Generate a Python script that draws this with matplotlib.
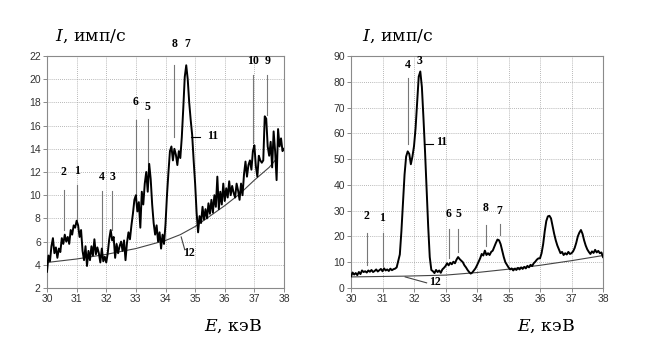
import numpy as np
import matplotlib
matplotlib.use("Agg")
import matplotlib.pyplot as plt

plt.rcParams['mathtext.fontset'] = 'dejavuserif'

# ---------------- data ----------------
E_start, E_step = 30.0, 0.05

left_counts = [
    3.4, 4.8, 4.3, 5.6, 6.3, 5.0, 5.5, 4.6, 5.4, 5.1,
    6.3, 5.8, 6.6, 6.0, 6.4, 5.8, 7.0, 6.6, 7.4, 7.2,
    7.8, 7.4, 6.4, 7.0, 5.2, 4.4, 5.6, 3.9, 5.2, 4.4,
    5.6, 4.8, 6.2, 4.9, 5.5, 5.0, 4.2, 5.4, 4.3, 4.7,
    4.2, 5.0, 6.2, 7.0, 6.1, 6.4, 4.6, 5.8, 5.0, 5.6,
    6.0, 5.2, 6.1, 4.4, 5.9, 6.8, 6.2, 7.4, 8.4, 9.6,
    10.0, 8.6, 9.4, 7.2, 10.3, 9.2, 11.0, 12.0, 10.3, 12.7,
    11.4, 9.2, 7.6, 6.6, 7.4, 6.0, 6.8, 5.4, 6.6, 5.8,
    7.5, 10.0, 12.0, 13.8, 14.2, 13.0, 14.0, 13.5, 12.6, 13.8,
    13.2, 15.0, 17.5, 20.2, 21.2, 20.0, 18.0, 16.5, 15.2, 13.0,
    11.0, 8.5, 6.8, 8.2, 7.6, 9.0, 7.9, 8.8, 8.0, 9.3,
    8.4, 9.6, 8.5, 10.0, 9.0, 11.6, 8.8, 10.3, 9.2, 11.0,
    9.5, 10.6, 9.8, 11.2, 10.0, 10.8, 10.2, 9.8, 11.0, 10.4,
    9.6, 11.0, 10.0, 11.8, 12.9, 11.6, 12.6, 13.0, 12.2, 13.8,
    14.3, 12.5, 11.6, 13.4, 13.0, 12.8, 13.0, 16.8, 16.6, 14.2,
    13.4, 14.6, 12.4, 15.5, 13.8, 11.3, 15.7, 14.2, 14.9, 13.8,
    14.0,
]

right_counts = [
    4.5, 6.0, 5.2, 5.8, 5.0, 6.2, 5.4, 6.8, 6.2, 6.5,
    6.0, 6.8, 6.3, 7.0, 6.2, 6.6, 7.2, 6.4, 6.9, 7.4,
    6.5, 7.6, 6.8, 7.2, 6.6, 7.5, 6.9, 7.3, 7.5, 8.0,
    10.5, 13.0, 22.0, 33.0, 44.0, 51.0, 53.0, 52.0, 48.0, 51.0,
    55.0, 62.0, 72.0, 82.0, 84.0, 78.0, 66.0, 53.0, 38.0, 24.0,
    12.0, 7.0, 6.5, 5.8, 7.0, 6.2, 6.8, 5.9, 7.2, 7.8,
    8.5, 9.6, 8.8, 9.8, 9.2, 10.2, 9.6, 11.0, 12.0, 11.2,
    10.6, 10.0, 8.8, 8.0, 7.0, 6.2, 5.6, 6.0, 6.8, 7.6,
    8.8, 10.2, 11.5, 13.2, 12.6, 14.5, 12.8, 13.5, 12.8, 14.0,
    14.5, 16.0, 17.5, 18.8, 18.5, 17.0, 14.5, 12.0, 10.0, 9.0,
    8.0, 7.2, 7.6, 6.8, 7.5, 7.0, 7.8, 7.2, 8.0, 7.4,
    8.2, 7.6, 8.6, 8.0, 9.0, 8.5, 9.6, 10.2, 11.0, 11.5,
    11.5, 13.5, 17.0, 22.0, 26.0, 27.8, 28.0, 27.0, 24.0, 21.0,
    18.5, 16.5, 15.0, 13.5, 14.0, 12.8, 13.5, 13.0, 14.0, 13.2,
    13.5, 14.2, 15.5, 17.5, 20.0, 21.5, 22.5, 21.0, 18.5, 16.5,
    15.0, 14.0, 13.2, 14.2, 13.6, 14.8, 13.8, 14.4, 13.5, 13.8,
    12.0,
]

# background (curve 12)
left_bg_E = [30.0, 30.5, 31.0, 31.5, 32.0, 32.5, 33.0, 33.5, 34.0, 34.5, 35.0, 35.5, 36.0, 36.5, 37.0, 37.5, 37.7]
left_bg_I = [4.2, 4.35, 4.5, 4.7, 4.9, 5.15, 5.4, 5.75, 6.1, 6.6, 7.3, 8.2, 9.1, 10.1, 11.3, 12.4, 13.0]
right_bg_E = [30.0, 31.7, 33.0, 34.0, 35.0, 36.0, 37.0, 38.0]
right_bg_I = [4.3, 4.6, 5.0, 6.0, 7.3, 8.8, 10.6, 12.6]

# peak markers: label, energy, line bottom, line top, label y
left_marks_lbl = ['2', '1', '4', '3', '6', '5', '8', '7', '10', '9']
left_marks_E   = [30.57, 31.0, 31.86, 32.2, 33.0, 33.4, 34.3, 34.73, 36.95, 37.43]
left_marks_lo  = [7.0, 7.9, 5.1, 7.0, 9.8, 12.5, 15.0, None, 14.5, 16.9]
left_marks_hi  = [10.45, 10.9, 10.4, 10.4, 16.5, 16.6, 21.2, None, 20.4, 20.4]
left_marks_ty  = [12.0, 12.1, 11.6, 11.6, 18.0, 17.6, 23.0, 23.0, 21.6, 21.6]

right_marks_lbl = ['4', '3', '2', '1', '6', '5', '8', '7']
right_marks_E   = [31.81, 32.17, 30.5, 31.0, 33.1, 33.4, 34.27, 34.72]
right_marks_lo  = [55.8, None, 8.9, 8.5, 11.6, 14.0, 16.3, 20.5]
right_marks_hi  = [81.5, None, 21.3, 21.3, 23.0, 23.0, 24.4, 25.0]
right_marks_ty  = [86.5, 88.0, 28.0, 27.0, 28.7, 28.7, 31.0, 30.0]

xticks = [30, 31, 32, 33, 34, 35, 36, 37, 38]
left_yticks = [2, 4, 6, 8, 10, 12, 14, 16, 18, 20, 22]
right_yticks = [0, 10, 20, 30, 40, 50, 60, 70, 80, 90]

# ---------------- figure ----------------
W, H = 660, 363
fig = plt.figure(figsize=(W / 100, H / 100), dpi=100)

def px_axes(x0, x1, y0, y1):
    return fig.add_axes([x0 / W, 1 - y1 / H, (x1 - x0) / W, (y1 - y0) / H])

axL = px_axes(47, 284, 56, 288)
axR = px_axes(351, 603, 56, 288)

tick_font = ['Liberation Sans Narrow', 'Liberation Sans', 'DejaVu Sans']
lab_font = ['Liberation Serif', 'DejaVu Serif']

def style(ax, yticks):
    ax.set_xlim(30, 38)
    ax.set_ylim(yticks[0], yticks[-1])
    ax.set_xticks(xticks)
    ax.set_yticks(yticks)
    ax.grid(True, color='#a0a0a0', linestyle=(0, (1, 1.5)), linewidth=0.6)
    for s in ax.spines.values():
        s.set_color('#8a8a8a')
        s.set_linewidth(0.8)
    ax.tick_params(direction='out', length=3, width=0.7, color='#8a8a8a',
                   labelsize=7.5, pad=1.5, labelcolor='#333333')
    for lbl in ax.get_xticklabels() + ax.get_yticklabels():
        lbl.set_family(tick_font)

style(axL, left_yticks)
style(axR, right_yticks)

E_left = E_start + E_step * np.arange(len(left_counts))
E_right = E_start + E_step * np.arange(len(right_counts))

axL.plot(left_bg_E, left_bg_I, color='#444444', linewidth=0.8, zorder=2)
axL.plot(E_left, left_counts, color='black', linewidth=1.4, zorder=3)
axR.plot(right_bg_E, right_bg_I, color='#444444', linewidth=0.8, zorder=2)
axR.plot(E_right, right_counts, color='black', linewidth=1.4, zorder=3)

def marks(ax, lbls, Es, los, his, tys):
    for l, e, lo, hi, ty in zip(lbls, Es, los, his, tys):
        if lo is not None:
            ax.plot([e, e], [lo, hi], color='#777777', linewidth=0.8, zorder=2)
        ax.text(e, ty, l, ha='center', va='center', fontsize=8.5,
                family=lab_font, fontweight='bold', clip_on=False, zorder=4)

marks(axL, left_marks_lbl, left_marks_E, left_marks_lo, left_marks_hi, left_marks_ty)
marks(axR, right_marks_lbl, right_marks_E, right_marks_lo, right_marks_hi, right_marks_ty)

# curve 11 and 12 pointers
axL.plot([34.87, 35.15], [15.0, 15.0], color='black', linewidth=0.8, zorder=4)
axL.text(35.6, 15.1, '11', ha='center', va='center', fontsize=8.5,
         family=lab_font, fontweight='bold')
axL.plot([34.53, 34.65], [6.4, 5.3], color='#444444', linewidth=0.8)
axL.text(34.8, 5.0, '12', ha='center', va='center', fontsize=8.5,
         family=lab_font, fontweight='bold')

axR.plot([32.32, 32.6], [56, 56], color='black', linewidth=0.8, zorder=4)
axR.text(32.89, 56.5, '11', ha='center', va='center', fontsize=8.5,
         family=lab_font, fontweight='bold')
axR.plot([31.72, 32.4], [4.3, 2.0], color='#444444', linewidth=0.8)
axR.text(32.65, 2.3, '12', ha='center', va='center', fontsize=8.5,
         family=lab_font, fontweight='bold')

# axis titles
for xp in (55, 362):
    fig.text(xp / W, 1 - 36 / H, r'$I$, имп/с', ha='left', va='center',
             fontsize=12.5, family=['DejaVu Serif'])
for xp in (204, 517):
    fig.text(xp / W, 1 - 326 / H, r'$E$, кэВ', ha='left', va='center',
             fontsize=12.5, family=['DejaVu Serif'])

fig.savefig('out.png', dpi=100, facecolor='white')
